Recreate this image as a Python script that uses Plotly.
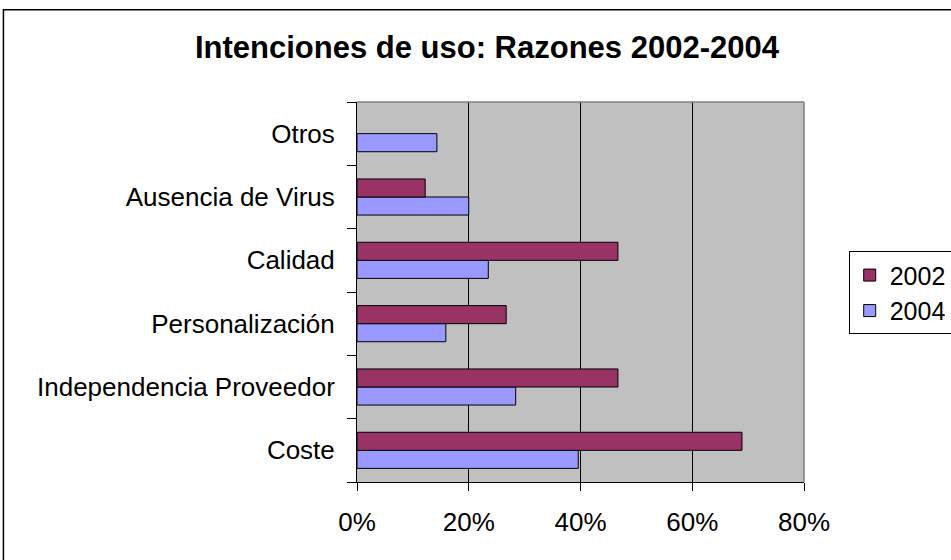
import plotly.graph_objects as go

# categories bottom -> top, as they appear on the chart
categories = ["Coste", "Independencia Proveedor", "Personalización",
              "Calidad", "Ausencia de Virus", "Otros"]
vals_2002 = [0.689, 0.467, 0.267, 0.467, 0.122, None]
vals_2004 = [0.396, 0.284, 0.159, 0.235, 0.200, 0.143]
x_ticks = [0, 0.2, 0.4, 0.6, 0.8]
x_labels = ["0%", "20%", "40%", "60%", "80%"]

font = "Liberation Sans, Arial, sans-serif"

fig = go.Figure()
# 2004 first so it sits on the lower half of each group
fig.add_trace(go.Bar(
    y=categories, x=vals_2004, orientation="h", name="2004",
    marker=dict(color="#9999FF", line=dict(color="black", width=1)),
))
fig.add_trace(go.Bar(
    y=categories, x=vals_2002, orientation="h", name="2002",
    marker=dict(color="#993366", line=dict(color="black", width=1)),
))

fig.update_layout(
    width=951, height=560,
    margin=dict(l=357, r=147, t=102, b=78, autoexpand=False),
    paper_bgcolor="white",
    plot_bgcolor="#C0C0C0",
    barmode="group",
    bargap=0.43,
    bargroupgap=0,
    font=dict(family=font, size=26, color="black"),
    title=dict(text="<b>Intenciones de uso: Razones 2002-2004</b>",
               x=0.512, xanchor="center", y=0.915, yanchor="middle",
               font=dict(size=31, family=font)),
    legend=dict(x=1.1, y=0.607, xanchor="left", yanchor="top",
                traceorder="reversed", bordercolor="black", borderwidth=1,
                bgcolor="white", font=dict(size=25)),
    xaxis=dict(range=[0, 0.8], tickvals=x_ticks, ticktext=x_labels,
               showgrid=True, gridcolor="black", gridwidth=1,
               showline=True, linecolor="black", linewidth=1,
               ticks="outside", ticklen=8, tickcolor="black",
               ticklabelstandoff=9, zeroline=False, fixedrange=True),
    yaxis=dict(showline=True, linecolor="black", linewidth=1,
               ticks="outside", ticklen=9, tickcolor="black",
               tickson="boundaries", ticklabelstandoff=16,
               showgrid=False, fixedrange=True, automargin=False),
    shapes=[
        # gray top/right edges of the plot area
        dict(type="line", xref="paper", yref="paper", x0=0, x1=1, y0=1, y1=1,
             line=dict(color="#808080", width=1.5)),
        dict(type="line", xref="paper", yref="paper", x0=1, x1=1, y0=0, y1=1,
             line=dict(color="#808080", width=1.5)),
        # outer chart border
        dict(type="rect", xref="paper", yref="paper",
             x0=-0.791, x1=1.34, y0=-0.22, y1=1.243,
             line=dict(color="black", width=1.5), layer="below"),
    ],
)

fig.write_html("out.html", config={"displayModeBar": False},
               post_script="document.body.style.margin='0';")
